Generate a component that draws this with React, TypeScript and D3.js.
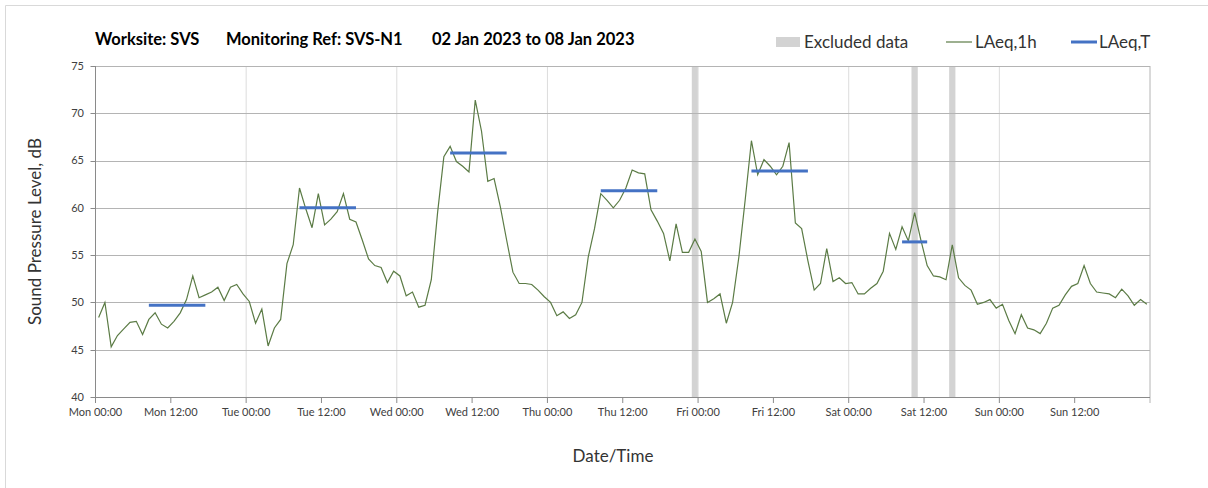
import React from "react";
import * as d3 from "d3";

// Hourly LAeq,1h values, Mon 00:00 .. Sun 23:00 (plotted at hour centres)
const laeq1h: number[] = [
  48.4, 50.0, 45.3, 46.5, 47.2, 47.9, 48.0, 46.6, 48.2, 48.9, 47.7, 47.3,
  48.0, 48.9, 50.3, 52.8, 50.5, 50.8, 51.1, 51.6, 50.2, 51.6, 51.9, 50.9,
  50.1, 47.8, 49.3, 45.4, 47.3, 48.2, 54.1, 56.1, 62.1, 59.9, 57.9, 61.5,
  58.2, 58.8, 59.6, 61.5, 58.8, 58.5, 56.6, 54.6, 53.9, 53.7, 52.1, 53.3,
  52.8, 50.7, 51.1, 49.5, 49.7, 52.4, 59.5, 65.4, 66.5, 64.9, 64.4, 63.8,
  71.4, 68.1, 62.8, 63.1, 60.1, 56.6, 53.2, 52.0, 52.0, 51.9, 51.3, 50.6,
  50.0, 48.6, 49.0, 48.3, 48.7, 50.0, 54.8, 57.8, 61.5, 60.8, 60.0, 60.8,
  62.1, 64.0, 63.7, 63.6, 59.8, 58.6, 57.3, 54.4, 58.3, 55.3, 55.3, 56.7,
  55.4, 50.0, 50.4, 50.9, 47.8, 50.0, 54.8, 60.8, 67.1, 63.5, 65.1, 64.4,
  63.5, 64.4, 66.9, 58.4, 57.8, 54.4, 51.3, 52.0, 55.7, 52.2, 52.6, 52.0,
  52.1, 50.9, 50.9, 51.5, 52.0, 53.3, 57.3, 55.6, 58.0, 56.5, 59.5, 56.6,
  53.9, 52.8, 52.7, 52.4, 56.1, 52.6, 51.8, 51.3, 49.8, 50.0, 50.3, 49.4,
  49.8, 48.1, 46.7, 48.7, 47.3, 47.1, 46.7, 47.8, 49.4, 49.7, 50.8, 51.7,
  52.0, 53.9, 52.0, 51.1, 51.0, 50.9, 50.5, 51.4, 50.7, 49.7, 50.3, 49.8,
];

// LAeq,T daytime periods (hour index of first and last hourly value)
const periodStart: number[] = [8, 32, 56, 80, 104, 128];
const periodEnd: number[] = [17, 41, 65, 89, 113, 132];
const periodValue: number[] = [49.7, 60.0, 65.8, 61.8, 63.9, 56.4];

// Excluded hours (hour index)
const excludedHours: number[] = [95, 130, 136];

const dayNames: string[] = ["Mon", "Tue", "Wed", "Thu", "Fri", "Sat", "Sun"];
const yTicks: number[] = [40, 45, 50, 55, 60, 65, 70, 75];

const W = 1208;
const H = 488;
const FONT = "Lato, 'Open Sans', sans-serif";
const GREEN = "#5b7b45";
const BLUE = "#4472c4";
const EXCL = "#d3d3d3";

export default function App() {
  const x = d3.scaleLinear().domain([0, 168]).range([95.5, 1150]);
  const y = d3.scaleLinear().domain([40, 75]).range([397, 66]);

  const line = d3
    .line<number>()
    .x((_, i) => x(i + 0.5))
    .y((d) => y(d));

  const xTicks = d3.range(0, 168, 12);
  const dayLines = d3.range(24, 168, 24);

  return (
    <svg
      width={W}
      height={H}
      style={{ position: "absolute", left: 0, top: 0, background: "#fff" }}
      fontFamily={FONT}
    >
      {/* outer chart border */}
      <line x1={5.5} x2={W} y1={5.5} y2={5.5} stroke="#d9d9d9" />
      <line x1={5.5} x2={5.5} y1={5.5} y2={H} stroke="#d9d9d9" />

      {/* excluded data bands */}
      {excludedHours.map((h) => (
        <rect
          key={h}
          x={x(h)}
          y={y(75)}
          width={x(h + 1) - x(h)}
          height={y(40) - y(75)}
          fill={EXCL}
        />
      ))}

      {/* vertical day gridlines */}
      {dayLines.map((h) => (
        <line
          key={h}
          x1={x(h)}
          x2={x(h)}
          y1={y(75)}
          y2={y(40)}
          stroke="#dcdcdc"
        />
      ))}

      {/* horizontal gridlines */}
      {yTicks.slice(1).map((v) => (
        <line
          key={v}
          x1={x(0)}
          x2={x(168)}
          y1={Math.round(y(v)) + 0.5}
          y2={Math.round(y(v)) + 0.5}
          stroke="#b4b4b4"
        />
      ))}
      {/* right border */}
      <line x1={x(168)} x2={x(168)} y1={y(75)} y2={y(40) + 6} stroke="#b4b4b4" />

      {/* axes */}
      <line x1={x(0)} x2={x(0)} y1={y(75)} y2={y(40) + 6} stroke="#8a8a8a" />
      <line x1={x(0)} x2={x(168)} y1={Math.round(y(40)) + 0.5} y2={Math.round(y(40)) + 0.5} stroke="#8a8a8a" />

      {yTicks.map((v) => (
        <g key={v}>
          <line
            x1={x(0) - 5}
            x2={x(0)}
            y1={Math.round(y(v)) + 0.5}
            y2={Math.round(y(v)) + 0.5}
            stroke="#8a8a8a"
          />
          <text
            x={84}
            y={y(v)}
            dy="0.35em"
            textAnchor="end"
            fontSize={11}
            fill="#404040"
          >
            {v}
          </text>
        </g>
      ))}

      {xTicks.map((h) => (
        <g key={h}>
          <line
            x1={x(h)}
            x2={x(h)}
            y1={y(40)}
            y2={y(40) + 6}
            stroke="#8a8a8a"
          />
          <text
            x={x(h)}
            y={416}
            textAnchor="middle"
            fontSize={11}
            fill="#404040"
          >
            {`${dayNames[Math.floor(h / 24)]} ${h % 24 === 0 ? "00" : "12"}:00`}
          </text>
        </g>
      ))}

      {/* LAeq,1h line */}
      <path d={line(laeq1h) || ""} fill="none" stroke={GREEN} strokeWidth={1.2} />

      {/* LAeq,T lines */}
      {periodValue.map((v, i) => (
        <line
          key={i}
          x1={x(periodStart[i] + 0.5)}
          x2={x(periodEnd[i] + 0.5)}
          y1={y(v)}
          y2={y(v)}
          stroke={BLUE}
          strokeWidth={3}
        />
      ))}

      {/* title */}
      <g fontSize={16.5} fontWeight="bold" fill="#000">
        <text x={95} y={45}>Worksite: SVS</text>
        <text x={226} y={45}>Monitoring Ref: SVS-N1</text>
        <text x={432} y={45}>02 Jan 2023 to 08 Jan 2023</text>
      </g>

      {/* legend */}
      <rect x={776} y={37} width={24} height={10} fill={EXCL} />
      <text x={804} y={48} fontSize={17} fill="#333">
        Excluded data
      </text>
      <line x1={946} x2={972} y1={42} y2={42} stroke={GREEN} strokeWidth={1.2} />
      <text x={975} y={48} fontSize={17} fill="#333">
        LAeq,1h
      </text>
      <line x1={1071} x2={1097} y1={42} y2={42} stroke={BLUE} strokeWidth={3} />
      <text x={1099} y={48} fontSize={17} fill="#333">
        LAeq,T
      </text>

      {/* axis titles */}
      <text
        transform={`translate(41, ${(y(40) + y(75)) / 2}) rotate(-90)`}
        textAnchor="middle"
        fontSize={17}
        fill="#333"
      >
        Sound Pressure Level, dB
      </text>
      <text x={613} y={462} textAnchor="middle" fontSize={17} fill="#333">
        Date/Time
      </text>
    </svg>
  );
}
